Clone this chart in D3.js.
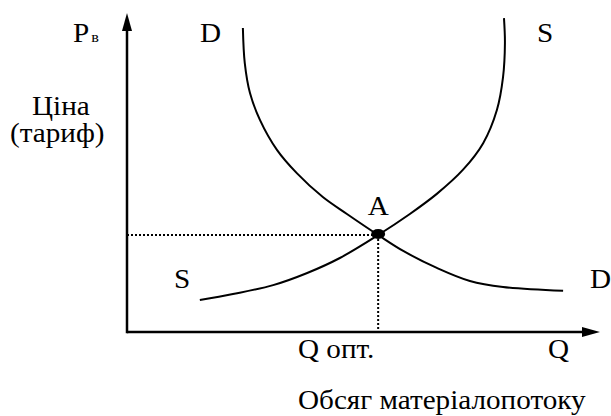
<!DOCTYPE html>
<html>
<head>
<meta charset="utf-8">
<script src="https://cdn.jsdelivr.net/npm/d3@7"></script>
<style>
  html, body { margin: 0; padding: 0; background: #fff; }
  svg { display: block; }
  text { font-family: "Liberation Serif", "Times New Roman", serif; fill: #000; }
</style>
</head>
<body>
<script>
// Demand curve D (quantity, price) in relative units 0..100
const demandQ = [24.5, 24.9, 26.0, 28.1, 31.7, 35.9, 41.4, 46.5, 53.1, 58.4, 65.5, 72.5, 79.5, 92.2];
const demandP = [95.3, 84.3, 74.9, 66.5, 57.1, 49.8, 42.3, 37.0, 30.4, 25.4, 20.1, 16.0, 14.1, 12.9];
// Supply curve S
const supplyQ = [15.4, 22.4, 30.9, 38.1, 45.0, 53.1, 59.8, 65.5, 71.0, 75.3, 78.2, 79.5, 79.9, 79.7];
const supplyP = [10.0, 11.9, 14.7, 18.5, 23.2, 30.4, 37.0, 43.3, 50.8, 59.2, 69.6, 79.9, 90.6, 98.4];
// Equilibrium point A
const equilibrium = { q: 53.1, p: 30.4 };
// Texts
const yAxisTitle = ["Ціна", "(тариф)"];
const xAxisTitle = "Обсяг матеріалопотоку";
const axisSymbolY = ["P", "в"];
const axisSymbolX = "Q";
const optLabel = "Q опт.";
const pointLabel = "A";
const curveLabels = ["D", "S"];

const W = 611, H = 416;
const svg = d3.select("body").append("svg").attr("width", W).attr("height", H);

const x = d3.scaleLinear().domain([0, 100]).range([127, 600]);
const y = d3.scaleLinear().domain([0, 100]).range([332, 13]);

// Axes
const x0 = x(0), y0 = y(0);
svg.append("line").attr("x1", x0).attr("y1", y0).attr("x2", x(100) - 14).attr("y2", y0)
  .attr("stroke", "#000").attr("stroke-width", 2.5);
svg.append("path").attr("d", `M${x(100)},${y0} L${x(100) - 18},${y0 - 5} L${x(100) - 18},${y0 + 5} Z`).attr("fill", "#000");
svg.append("line").attr("x1", x0).attr("y1", y0 + 1.2).attr("x2", x0).attr("y2", y(100) + 14)
  .attr("stroke", "#000").attr("stroke-width", 2.5);
svg.append("path").attr("d", `M${x0},${y(100)} L${x0 - 5},${y(100) + 18} L${x0 + 5},${y(100) + 18} Z`).attr("fill", "#000");

// Dotted guides
svg.append("line").attr("x1", x0).attr("y1", y(equilibrium.p)).attr("x2", x(equilibrium.q)).attr("y2", y(equilibrium.p))
  .attr("stroke", "#000").attr("stroke-width", 2).attr("stroke-dasharray", "2,2");
svg.append("line").attr("x1", x(equilibrium.q)).attr("y1", y(equilibrium.p)).attr("x2", x(equilibrium.q)).attr("y2", y0)
  .attr("stroke", "#000").attr("stroke-width", 2).attr("stroke-dasharray", "2,2");

// Curves
const line = d3.line().x(d => x(d[0])).y(d => y(d[1])).curve(d3.curveCatmullRom.alpha(0.5));
const demand = demandQ.map((q, i) => [q, demandP[i]]);
const supply = supplyQ.map((q, i) => [q, supplyP[i]]);
svg.append("path").attr("d", line(demand)).attr("fill", "none").attr("stroke", "#000").attr("stroke-width", 2);
svg.append("path").attr("d", line(supply)).attr("fill", "none").attr("stroke", "#000").attr("stroke-width", 2);

// Equilibrium point
svg.append("ellipse").attr("cx", x(equilibrium.q)).attr("cy", y(equilibrium.p) - 1)
  .attr("rx", 7).attr("ry", 5).attr("fill", "#000");

const fs = 27, sx = 1.08;
function txt(s, px, py, anchor, size) {
  return svg.append("text")
    .attr("transform", `translate(${px},${py}) scale(${sx},1)`)
    .attr("text-anchor", anchor || "start")
    .attr("font-size", size || fs).text(s);
}

// Labels
const pT = svg.append("text").attr("transform", `translate(73,42) scale(${sx},1)`).attr("font-size", fs);
pT.append("tspan").text(axisSymbolY[0]);
pT.append("tspan").attr("font-size", 15).attr("dx", 2).text(axisSymbolY[1]);

txt(yAxisTitle[0], 32, 115);
txt(yAxisTitle[1], 10, 142);
txt(curveLabels[0], 200, 42);
txt(curveLabels[1], 537, 42);
txt(curveLabels[1], 174, 288);
txt(curveLabels[0], 590, 288);
txt(pointLabel, x(equilibrium.q), 215, "middle");
txt(optLabel, 298, 358);
txt(axisSymbolX, 548, 358);
txt(xAxisTitle, 298, 409);
</script>
</body>
</html>
